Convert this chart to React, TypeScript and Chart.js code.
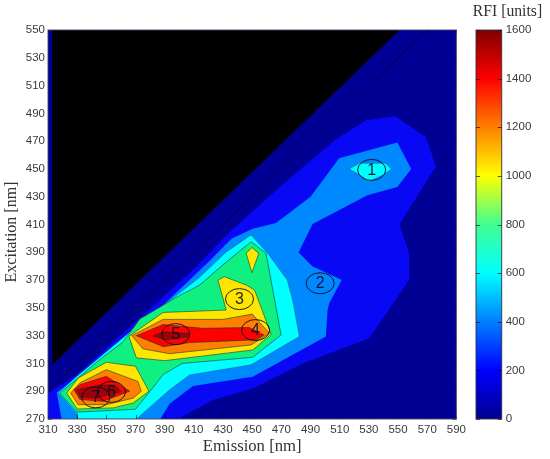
import React, { useEffect, useRef } from "react";
import { Chart, registerables } from "chart.js";

Chart.register(...registerables);

type P = [number, number];

const xMin = 310, xMax = 590, yMin = 270, yMax = 550;
const cbarTicksMax = 1600;

const frame: P[] = [[310, 270], [590, 270], [590, 550], [310, 550]];
const blackWedge: P[] = [[313, 309], [551, 550], [313, 550]];
const ridgeLine: P[] = [[310, 290], [570, 550]];

const level200: P[] = [[310, 270], [310, 289], [330, 302], [370, 340], [410, 378], [434, 404], [470, 438], [507, 471], [528, 485], [548, 488], [569, 473], [576, 452], [551, 410], [557.5, 389.5], [557.5, 370], [544, 349], [530, 328], [484.6, 310], [450.4, 292], [423, 283.7], [400, 270.5]];
const level400: P[] = [[319.3, 270], [316, 289], [326, 297], [370, 333], [420, 383], [436, 400], [450.4, 407], [466.3, 411], [490, 430], [509.6, 457.7], [549.5, 469], [559, 450], [549.5, 437], [529, 431], [491.4, 410.4], [481.8, 389.8], [491.4, 379.7], [511.4, 370], [502.8, 353.3], [501.7, 348.5], [500.5, 329.3], [450.4, 300.5], [409.4, 293.8], [393.4, 281], [387, 270]];
const level600A: P[] = [[317, 288.7], [330, 273.8], [330, 270], [370.6, 270], [393.4, 291], [407, 301.7], [449.2, 309], [482.3, 329.3], [477.7, 355.7], [474, 370], [460.6, 389.3], [449.2, 402.5], [432, 390], [414, 372], [370, 336], [330, 301]];
const level600B: P[] = [[516.5, 450], [523.3, 454], [541.5, 454], [545.4, 450], [540.4, 446], [530, 441], [523.3, 446]];
const level800: P[] = [[318, 288.5], [330, 275], [370, 277], [380, 290], [389, 302], [402, 310], [450.4, 314.4], [469.8, 330.5], [459.5, 389.3], [449.3, 397.6], [432.2, 383], [414, 366.4], [397, 357], [373, 342], [361, 325], [347, 314], [330, 299]];
const level1000A: P[] = [[322.8, 288.7], [330, 277.2], [354.6, 278], [368.3, 281.5], [379.2, 290], [370, 308], [350, 310.8], [330.7, 299.5]];
const level1000B: P[] = [[365.5, 329.5], [370.6, 314], [390, 312], [450.4, 319.7], [463, 331], [451.6, 362.8], [445.9, 366.4], [431, 372.4], [426.5, 370], [432.2, 348.4], [388.9, 346.7]];
const level1000C: P[] = [[445.9, 389.2], [449.8, 393.5], [454.5, 389.2], [449.8, 375.3]];
const level1200A: P[] = [[325.5, 288.7], [330.7, 280.3], [350, 280.3], [368.3, 285], [374, 290], [371.7, 297], [350, 305.5], [331.9, 296]];
const level1200B: P[] = [[367.5, 330], [375, 320.5], [393.4, 317], [449.2, 323.3], [461.8, 331.7], [450, 345.5], [430, 341.7], [388.9, 341.7]];
const level1400A: P[] = [[327.8, 291], [331.9, 284], [347.8, 282.7], [366, 290], [350, 300.7], [331.9, 294.7]];
const level1400B: P[] = [[370.6, 330], [389, 322], [407, 325], [439, 326.4], [452.7, 327], [458, 330.5], [448, 335.8], [416, 335.3], [388.9, 338]];
const level1600A: P[] = [[329.6, 291], [345.5, 294.5], [355.8, 294.5], [360.3, 289.7], [343.2, 285], [331.9, 285.6]];
const level1600B: P[] = [[382, 329.7], [389, 332.8], [407, 331.6], [406, 329.2], [391, 326.8]];

const peakLabels = ["1", "2", "3", "4", "5", "6", "7"];
const peakX = [531.9, 496.6, 441.3, 452.3, 397.6, 353.5, 342.8];
const peakY = [449.3, 367.7, 356.3, 334, 331.1, 289.5, 285.6];

const cbarValues = [[0, 1600]];
const cbarStops: [number, string][] = [
  [0, "#00008f"], [0.125, "#0000ff"], [0.375, "#00ffff"], [0.5, "#40ff90"],
  [0.625, "#ffff00"], [0.875, "#ff0000"], [1, "#800000"],
];

const NAVY = "#000094";
const BLUE = "#0808f4";
const AZURE = "#0088ff";
const CYAN = "#00ffff";
const GREEN = "#10f080";
const YELLOW = "#ffe600";
const ORANGE = "#ff8000";
const RED = "#ff0000";
const DARK = "#a00008";
const EDGE = "rgba(0,50,50,0.55)";

const shapes: { pts: P[]; color: string; edge?: string }[] = [
  { pts: frame, color: NAVY },
  { pts: blackWedge, color: "#000000" },
  { pts: level200, color: BLUE },
  { pts: level400, color: AZURE },
  { pts: level600A, color: CYAN, edge: "rgba(0,60,90,0.35)" },
  { pts: level600B, color: CYAN, edge: "rgba(0,60,90,0.35)" },
  { pts: level800, color: GREEN, edge: EDGE },
  { pts: level1000A, color: YELLOW, edge: EDGE },
  { pts: level1000B, color: YELLOW, edge: EDGE },
  { pts: level1000C, color: YELLOW, edge: EDGE },
  { pts: level1200A, color: ORANGE, edge: EDGE },
  { pts: level1200B, color: ORANGE, edge: EDGE },
  { pts: level1400A, color: RED, edge: EDGE },
  { pts: level1400B, color: RED, edge: EDGE },
  { pts: level1600A, color: DARK, edge: EDGE },
  { pts: level1600B, color: DARK, edge: EDGE },
];

const SANS = "'Liberation Sans', Arial, sans-serif";
const SERIF = "'Liberation Serif', 'Times New Roman', serif";
const TICK_FONT = { family: SANS, size: 11.5 };
const TITLE_COLOR = "#333333";
const TICK_COLOR = "#3a3a3a";
const yTitle = "Excitation [nm]";
const barTitle = "RFI [units]";

const insideTicks = {
  id: "insideTicks",
  afterDatasetsDraw(chart: any, _a: any, opts: any) {
    const { ctx, chartArea: a, scales } = chart;
    const len = opts.length ?? 4;
    ctx.save();
    ctx.strokeStyle = opts.color;
    ctx.lineWidth = 1;
    ctx.beginPath();
    const ys = scales.y;
    ys.ticks.forEach((t: any) => {
      const py = Math.round(ys.getPixelForValue(t.value)) + 0.5;
      ctx.moveTo(a.left, py); ctx.lineTo(a.left + len, py);
      ctx.moveTo(a.right, py); ctx.lineTo(a.right - len, py);
    });
    if (opts.xTicks) {
      const xs = scales.x;
      xs.ticks.forEach((t: any) => {
        const px = Math.round(xs.getPixelForValue(t.value)) + 0.5;
        ctx.moveTo(px, a.bottom); ctx.lineTo(px, a.bottom - len);
        ctx.moveTo(px, a.top); ctx.lineTo(px, a.top + len);
      });
    }
    ctx.stroke();
    ctx.strokeStyle = opts.box;
    ctx.strokeRect(a.left, a.top, a.right - a.left, a.bottom - a.top);
    ctx.restore();
  },
};

const peakMarks = {
  id: "peakMarks",
  afterDatasetsDraw(chart: any) {
    const { ctx, scales } = chart;
    ctx.save();
    ctx.strokeStyle = "rgba(10,10,30,0.9)";
    ctx.fillStyle = "rgba(10,10,40,0.9)";
    ctx.lineWidth = 1;
    ctx.font = `16px ${SANS}`;
    ctx.textAlign = "center";
    ctx.textBaseline = "middle";
    peakLabels.forEach((label, i) => {
      const px = scales.x.getPixelForValue(peakX[i]);
      const py = scales.y.getPixelForValue(peakY[i]);
      ctx.beginPath();
      ctx.ellipse(px, py, 14, 10.5, 0, 0, Math.PI * 2);
      ctx.stroke();
      ctx.fillText(label, px, py + 0.5);
    });
    ctx.restore();
  },
};

const ridge = {
  id: "ridge",
  afterDatasetsDraw(chart: any) {
    const { ctx, scales } = chart;
    ctx.save();
    ctx.strokeStyle = "rgba(0,0,60,0.8)";
    ctx.lineWidth = 1;
    ctx.beginPath();
    ridgeLine.forEach(([x, y], i) => {
      const px = scales.x.getPixelForValue(x);
      const py = scales.y.getPixelForValue(y);
      if (i === 0) ctx.moveTo(px, py); else ctx.lineTo(px, py);
    });
    ctx.stroke();
    ctx.restore();
  },
};

const yAxisTitle = {
  id: "yAxisTitle",
  afterDraw(chart: any) {
    const { ctx } = chart;
    ctx.save();
    ctx.translate(12, 232);
    ctx.rotate(-Math.PI / 2);
    ctx.font = `16px ${SERIF}`;
    ctx.fillStyle = TITLE_COLOR;
    ctx.textAlign = "center";
    ctx.textBaseline = "middle";
    ctx.fillText(yTitle, 0, 0);
    ctx.restore();
  },
};

const barHeading = {
  id: "barHeading",
  afterDraw(chart: any) {
    const { ctx } = chart;
    ctx.save();
    ctx.font = `15.7px ${SERIF}`;
    ctx.fillStyle = TITLE_COLOR;
    ctx.textAlign = "center";
    ctx.textBaseline = "middle";
    ctx.fillText(barTitle, 53.5, 12);
    ctx.restore();
  },
};

export default function App() {
  const mainRef = useRef<HTMLCanvasElement>(null);
  const barRef = useRef<HTMLCanvasElement>(null);

  useEffect(() => {
    document.body.style.margin = "0";
    const main = new Chart(mainRef.current!, {
      type: "scatter",
      data: {
        datasets: [...shapes].reverse().map((s) => ({
          data: [...s.pts, s.pts[0]].map(([x, y]) => ({ x, y })),
          showLine: true,
          fill: "shape",
          backgroundColor: s.color,
          borderColor: s.edge ?? s.color,
          borderWidth: s.edge ? 1 : 0,
          pointRadius: 0,
          tension: 0,
        })),
      },
      options: {
        responsive: false,
        animation: false,
        events: [],
        layout: { padding: { top: 30, right: 12.5, bottom: 0, left: 0 } },
        plugins: {
          legend: { display: false },
          tooltip: { enabled: false },
          insideTicks: { color: "rgba(0,0,40,0.55)", box: "rgba(70,70,100,0.9)", length: 4, xTicks: true },
        } as any,
        scales: {
          x: {
            type: "linear", min: xMin, max: xMax,
            afterFit: (s: any) => { s.height = 40; },
            grid: { display: false, drawTicks: false, tickLength: 0 },
            border: { display: false },
            ticks: { stepSize: 20, autoSkip: false, maxRotation: 0, padding: 4, color: TICK_COLOR, font: TICK_FONT },
            title: { display: true, text: "Emission [nm]", color: TITLE_COLOR, font: { family: SERIF, size: 16.7 }, padding: { top: 0, bottom: 2 } },
          },
          y: {
            type: "linear", min: yMin, max: yMax,
            afterFit: (s: any) => { s.width = 48; },
            grid: { display: false, drawTicks: false, tickLength: 0 },
            border: { display: false },
            ticks: { stepSize: 20, autoSkip: false, padding: 3, color: TICK_COLOR, font: TICK_FONT },
          },
        },
      } as any,
      plugins: [ridge, insideTicks, peakMarks, yAxisTitle],
    });

    const bar = new Chart(barRef.current!, {
      type: "bar",
      data: {
        labels: ["RFI"],
        datasets: [{
          data: cbarValues as any,
          categoryPercentage: 1,
          barPercentage: 1,
          backgroundColor: (c: any) => {
            const a = c.chart.chartArea;
            if (!a) return "#0000ff";
            const g = c.chart.ctx.createLinearGradient(0, a.bottom, 0, a.top);
            cbarStops.forEach(([o, col]) => g.addColorStop(o, col));
            return g;
          },
        }],
      },
      options: {
        responsive: false,
        animation: false,
        events: [],
        layout: { padding: { top: 30, right: 0, bottom: 40, left: 22 } },
        plugins: {
          legend: { display: false },
          tooltip: { enabled: false },
          title: { display: false },
          insideTicks: { color: "rgba(0,0,30,0.65)", box: "rgba(50,50,60,0.9)", length: 4, xTicks: false },
        } as any,
        scales: {
          x: { display: false },
          y: {
            position: "right", min: 0, max: cbarTicksMax,
            afterFit: (s: any) => { s.width = 48.3; },
            grid: { display: false, drawTicks: false, tickLength: 0 },
            border: { display: false },
            ticks: { stepSize: 200, padding: 4, color: TICK_COLOR, font: { family: SANS, size: 11.5 }, callback: (v: any) => String(v) },
          },
        },
      } as any,
      plugins: [insideTicks, barHeading],
    });

    return () => { main.destroy(); bar.destroy(); };
  }, []);

  const soft = { position: "absolute" as const, top: 0, filter: "blur(0.35px)" };
  return (
    <div style={{ position: "absolute", left: 0, top: 0, width: 550, height: 459, overflow: "hidden", background: "#fff" }}>
      <canvas ref={mainRef} width={470} height={459} style={{ ...soft, left: 0 }} />
      <canvas ref={barRef} width={96} height={459} style={{ ...soft, left: 454 }} />
    </div>
  );
}
